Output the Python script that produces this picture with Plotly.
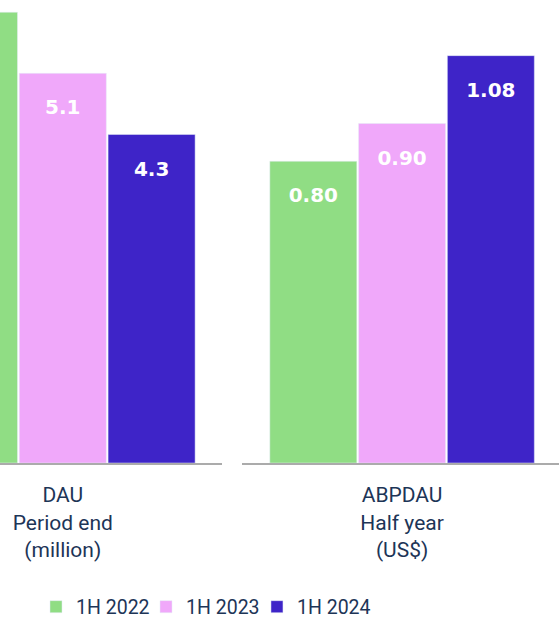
import plotly.graph_objects as go

# ---- data ----
years = ["1H 2022", "1H 2023", "1H 2024"]
colors = ["#90DD84", "#F0A8FA", "#3E24C8"]
dau_category = ["DAU<br>Period end<br>(million)"]
abpdau_category = ["ABPDAU<br>Half year<br>(US$)"]
dau_values = [5.9, 5.1, 4.3]
abpdau_values = [0.80, 0.90, 1.08]

TEXT_COLOR = "#1d3557"
LINE_COLOR = "#ababab"
legend_names = ["legend", "legend2", "legend3"]
legend_x = [0.0644, 0.2612, 0.4597]


def label_template(fmt):
    return '&nbsp;<br><span style="font-size:20px">%{y:' + fmt + '}</span>'


bar_text_font = dict(family="DejaVu Sans", size=17, color="white", weight="bold")

fig = go.Figure()
for i, (yr, col) in enumerate(zip(years, colors)):
    fig.add_trace(go.Bar(
        x=dau_category, y=[dau_values[i]], name=yr, legendgroup=yr,
        legend=legend_names[i],
        marker=dict(color=col), showlegend=True, xaxis="x", yaxis="y",
        texttemplate=label_template(".1f"), textposition="inside",
        insidetextanchor="end", insidetextfont=bar_text_font,
        cliponaxis=True,
    ))
    fig.add_trace(go.Bar(
        x=abpdau_category, y=[abpdau_values[i]], name=yr, legendgroup=yr,
        legend=legend_names[i],
        marker=dict(color=col), showlegend=False, xaxis="x2", yaxis="y2",
        texttemplate=label_template(".2f"), textposition="inside",
        insidetextanchor="end", insidetextfont=bar_text_font,
        cliponaxis=True,
    ))

axis_common = dict(
    showline=True, linecolor=LINE_COLOR, linewidth=2, ticks="",
    showgrid=False, zeroline=False, automargin=False,
    ticklabelstandoff=12,
    tickfont=dict(family="Roboto", size=21, color=TEXT_COLOR),
)

legend_style = dict(
    orientation="h", xanchor="left", y=-0.311, yanchor="middle",
    font=dict(family="Roboto", size=19.5, color=TEXT_COLOR),
    bgcolor="rgba(0,0,0,0)",
)

fig.update_layout(
    width=559, height=617,
    margin=dict(l=0, r=0, t=0, b=154, autoexpand=False),
    plot_bgcolor="white", paper_bgcolor="white",
    barmode="group", bargap=0.16, bargroupgap=0.02,
    xaxis=dict(domain=[0, 222 / 559], range=[-0.198, 0.502], **axis_common),
    yaxis=dict(range=[0, 6.06], visible=False),
    xaxis2=dict(domain=[242 / 559, 1], anchor="y2", range=[-0.505, 0.495], **axis_common),
    yaxis2=dict(anchor="x2", range=[0, 1.2275], visible=False),
    legend=dict(x=legend_x[0], **legend_style),
    legend2=dict(x=legend_x[1], **legend_style),
    legend3=dict(x=legend_x[2], **legend_style),
    showlegend=True,
)

fig.write_html("out.html")
